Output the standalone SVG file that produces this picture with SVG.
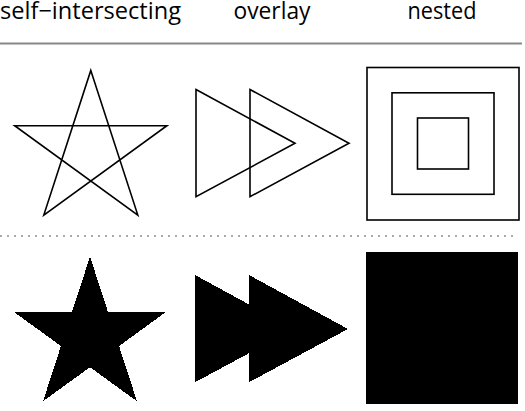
<svg xmlns="http://www.w3.org/2000/svg" width="525" height="411" viewBox="0 0 525 411">
<style>
.title{font-family:"Open Sans","Noto Sans",sans-serif;font-size:23.5px;fill:#000}
.outline{fill:none;stroke:#000;stroke-width:1.6;stroke-linejoin:miter}
.filled{fill:#000;stroke:none;fill-rule:nonzero;shape-rendering:crispEdges}
</style>
<rect width="525" height="411" fill="#fff"/>
<g id="titles">
<text class="title" x="0" y="18.8" textLength="181" lengthAdjust="spacingAndGlyphs">self−intersecting</text>
<text class="title" x="272" y="18.8" text-anchor="middle" textLength="77" lengthAdjust="spacingAndGlyphs">overlay</text>
<text class="title" x="442" y="18.8" text-anchor="middle" textLength="69" lengthAdjust="spacingAndGlyphs">nested</text>
</g>
<g id="separators">
<line x1="0" y1="43.5" x2="522" y2="43.5" stroke="#888" stroke-width="2"/>
<line x1="0" y1="236" x2="515" y2="236" stroke="#aaa" stroke-width="2" stroke-dasharray="2 5"/>
</g>
<g id="star-outline">
<polygon class="outline" points="90.8,70.4 137.8,215.1 14.7,125.7 166.9,125.7 43.8,215.1"/>
</g>
<g id="overlay-outline">
<polygon class="outline" points="196,89.5 295,143.3 196,196.7"/>
<polygon class="outline" points="250,89.5 349,143.3 250,196.7"/>
</g>
<g id="nested-outline">
<rect class="outline" x="367" y="67.5" width="152" height="152.5"/>
<rect class="outline" x="392" y="92.8" width="102" height="101.5"/>
<rect class="outline" x="417.5" y="118" width="51" height="51"/>
</g>
<g id="star-filled">
<polygon class="filled" points="90,256.6 137,401.3 13.9,311.9 166.1,311.9 43,401.3"/>
</g>
<g id="overlay-filled">
<polygon class="filled" points="195,275 294,329 195,382.3"/>
<polygon class="filled" points="249,275 348,329 249,382.3"/>
</g>
<g id="nested-filled">
<path class="filled" d="M366,251.7H518.3V404.3H366Z M391,277H493V379H391Z M416.5,302.5H467.5V353.5H416.5Z"/>
</g>
</svg>
